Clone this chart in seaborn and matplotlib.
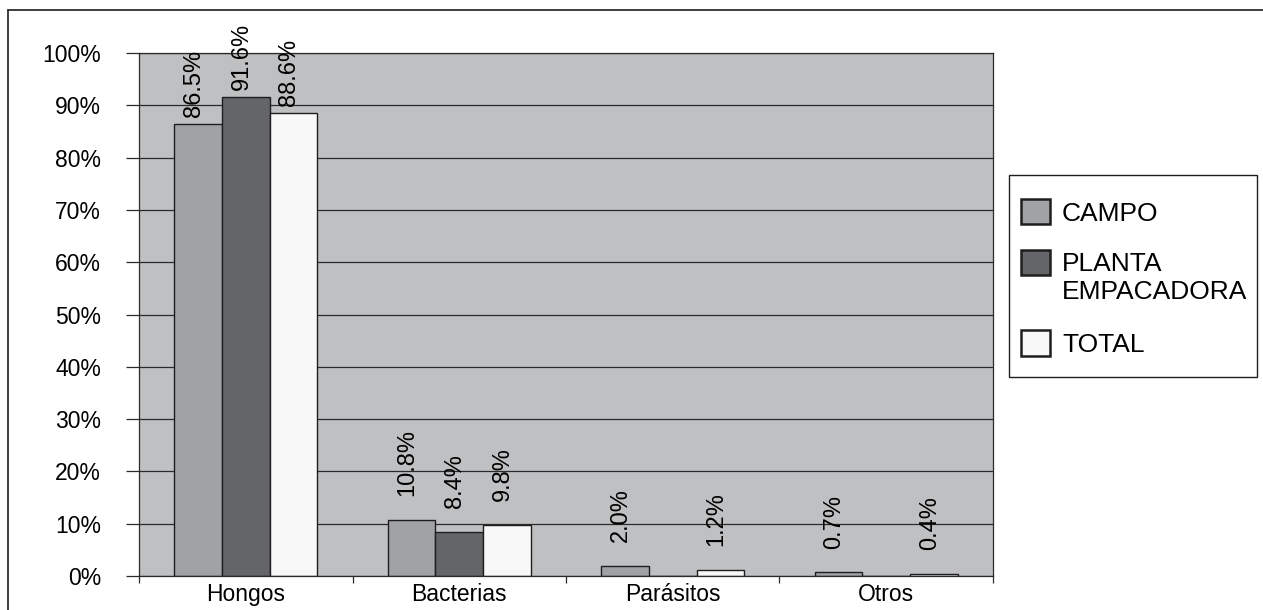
import matplotlib
matplotlib.use("Agg")
import matplotlib.pyplot as plt
import seaborn as sns
import pandas as pd
from matplotlib.patches import Rectangle
from matplotlib.lines import Line2D
from matplotlib.ticker import FuncFormatter

# Data
categories = ["Hongos", "Bacterias", "Parásitos", "Otros"]
series = ["CAMPO", "PLANTA\nEMPACADORA", "TOTAL"]
campo = [86.5, 10.8, 2.0, 0.7]
planta = [91.6, 8.4, 0.0, 0.0]
total = [88.6, 9.8, 1.2, 0.4]
y_ticks = list(range(0, 101, 10))

sns.set_theme(style="white")
plt.rcParams["font.family"] = ["Liberation Sans", "DejaVu Sans"]

df = pd.DataFrame({
    "categoria": categories * 3,
    "serie": [series[0]] * 4 + [series[1]] * 4 + [series[2]] * 4,
    "valor": campo + planta + total,
})

W, H = 1263, 610
fig = plt.figure(figsize=(W / 100, H / 100), dpi=100)
fig.patch.set_facecolor("white")
ax = fig.add_axes([139 / W, 1 - 576 / H, (993 - 139) / W, (576 - 53) / H])

colors = ["#A0A2A5", "#646569", "#F8F8F8"]
ink = "#1e1e1e"
sns.barplot(data=df, x="categoria", y="valor", hue="serie",
            order=categories, hue_order=series, palette=colors,
            width=0.67, saturation=1, errorbar=None,
            edgecolor=ink, linewidth=1.0, ax=ax, legend=True)

ax.set_facecolor("#BFC0C2")
ax.set_axisbelow(True)
ax.yaxis.grid(True, color="#2a2a2a", linewidth=0.9)
ax.xaxis.grid(False)
ax.set_ylim(0, 100)
ax.set_xlim(-0.5, 3.5)
ax.set_xlabel("")
ax.set_ylabel("")

for sp in ax.spines.values():
    sp.set_visible(True)
    sp.set_color("#2a2a2a")
    sp.set_linewidth(0.9)

ax.set_yticks(y_ticks)
ax.yaxis.set_major_formatter(FuncFormatter(lambda v, _: f"{v:.0f}%"))
ax.tick_params(axis="y", left=True, length=9.4, width=0.9, color="#2a2a2a",
               direction="out", pad=18, labelsize=16.5, labelcolor="black")

ax.set_xticks(range(len(categories)))
ax.set_xticklabels(categories)
ax.set_xticks([i - 0.5 for i in range(len(categories) + 1)], minor=True)
ax.tick_params(axis="x", which="major", bottom=False, length=0, pad=5,
               labelsize=16.5, labelcolor="black")
ax.tick_params(axis="x", which="minor", bottom=True, length=5, width=0.9,
               color="#2a2a2a", direction="out")

# Value labels above each non-zero bar
for container, vals in zip(ax.containers, [campo, planta, total]):
    for bar, v in zip(container, vals):
        if v <= 0:
            continue
        pad = 5 if v > 50 else 17
        ax.annotate(f"{v:.1f}%",
                    xy=(bar.get_x() + bar.get_width() / 2, v),
                    xytext=(-3, pad), textcoords="offset points",
                    rotation=90, ha="center", va="bottom",
                    fontsize=17, color="black", annotation_clip=False)

# Legend entries; the box around them is drawn separately
sns.move_legend(ax, loc="upper left",
                bbox_to_anchor=(1021 / W, 1 - 199 / H),
                bbox_transform=fig.transFigure, title=None,
                frameon=False, fontsize=19,
                handlelength=1.1, handleheight=1.1, handletextpad=0.45,
                labelspacing=1.0, borderpad=0, borderaxespad=0)
leg = ax.get_legend()
for h in leg.legend_handles:
    h.set_edgecolor(ink)
    h.set_linewidth(1.8)
# keep the two-line entry's swatch next to its first line
two_line = leg.legend_handles[1]
two_line.set_y(two_line.get_y() + 0.6 * 19)
for t in leg.get_texts():
    t.set_color("black")

fig.patches.append(Rectangle((1009 / W, 1 - 377 / H), (1257 - 1009) / W, (377 - 175) / H,
                             transform=fig.transFigure, fill=False,
                             edgecolor=ink, linewidth=1.0))

# Outer frame: top and left edges of the chart area
fig.lines.append(Line2D([8 / W, 1], [1 - 10 / H, 1 - 10 / H],
                        transform=fig.transFigure, color=ink, linewidth=1.2))
fig.lines.append(Line2D([8 / W, 8 / W], [0, 1 - 10 / H],
                        transform=fig.transFigure, color=ink, linewidth=1.2))

fig.savefig("out.png", dpi=100)
